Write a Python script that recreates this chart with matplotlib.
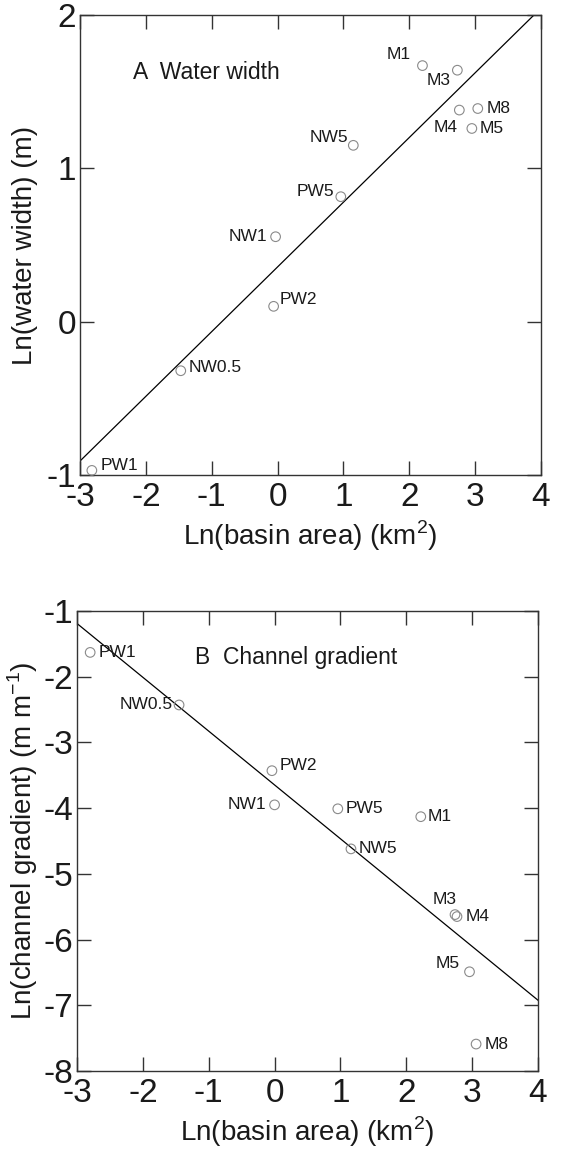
import matplotlib
matplotlib.use("Agg")
import matplotlib.pyplot as plt
import numpy as np

plt.rcParams['font.family'] = ['Liberation Sans', 'DejaVu Sans']
plt.rcParams['mathtext.fontset'] = 'custom'
plt.rcParams['mathtext.rm'] = 'Liberation Sans'
plt.rcParams['axes.unicode_minus'] = False

# ---- data ----
sites_a = ["M1", "M3", "M4", "M8", "M5", "NW5", "PW5", "NW1", "PW2", "NW0.5", "PW1"]
area_a = [2.20, 2.73, 2.76, 3.04, 2.95, 1.15, 0.96, -0.03, -0.06, -1.47, -2.82]
width_a = [1.67, 1.64, 1.38, 1.39, 1.26, 1.15, 0.815, 0.554, 0.10, -0.32, -0.97]
fit_a = (0.422, 0.357)  # slope, intercept

sites_b = ["PW1", "NW0.5", "PW2", "NW1", "PW5", "M1", "NW5", "M3", "M4", "M5", "M8"]
area_b = [-2.80, -1.45, -0.04, 0.00, 0.96, 2.22, 1.16, 2.74, 2.77, 2.96, 3.06]
grad_b = [-1.63, -2.43, -3.43, -3.95, -4.01, -4.13, -4.62, -5.62, -5.65, -6.49, -7.59]
fit_b = (-0.819, -3.647)

x_ticks = [-3, -2, -1, 0, 1, 2, 3, 4]
y_ticks_a = [-1, 0, 1, 2]
y_ticks_b = [-8, -7, -6, -5, -4, -3, -2, -1]

# label placement (pixel offsets, alignment)
lab_a = {
    "M1": (-12, 11, 'right'), "M3": (-7, -10, 'right'), "M4": (-2, -17, 'right'),
    "M8": (9, 0, 'left'), "M5": (8, 0, 'left'), "NW5": (-5, 8, 'right'),
    "PW5": (-7, 5, 'right'), "NW1": (-8, 0, 'right'), "PW2": (6, 7, 'left'),
    "NW0.5": (8, 3, 'left'), "PW1": (9, 5, 'left'),
}
lab_b = {
    "PW1": (8, 0, 'left'), "NW0.5": (-6, 0, 'right'), "PW2": (8, 5, 'left'),
    "NW1": (-8, 0, 'right'), "PW5": (8, 0, 'left'), "M1": (7, 0, 'left'),
    "NW5": (8, 0, 'left'), "M3": (2, 15, 'right'), "M4": (9, 0, 'left'),
    "M5": (-10, 8, 'right'), "M8": (9, 0, 'left'),
}

W, H = 561, 1153
fig = plt.figure(figsize=(W / 100, H / 100), dpi=100)
axA = fig.add_axes([80 / W, 1 - 475 / H, 461 / W, 460 / H])
axB = fig.add_axes([77 / W, 1 - 1071 / H, 461 / W, 460 / H])

txtc = '#1a1a1a'


def style(ax, yt):
    ax.set_xlim(-3, 4)
    ax.set_xticks(x_ticks)
    ax.set_yticks(yt)
    ax.set_ylim(yt[0], yt[-1])
    ax.tick_params(direction='in', length=10, width=1.0, color='#333333',
                   top=True, right=True, labelsize=24, pad=5, labelcolor=txtc)
    ax.tick_params(axis='y', pad=3)
    for s in ax.spines.values():
        s.set_color('#333333')
        s.set_linewidth(1.0)


def panel(ax, names, xs, ys, fit, labs):
    xx = np.array([-3.0, 4.0])
    ax.plot(xx, fit[0] * xx + fit[1], color='black', lw=0.9, zorder=2)
    ax.scatter(xs, ys, s=48, facecolors='none', edgecolors='#8a8a8a',
               linewidths=0.8, zorder=3, clip_on=False)
    for n, x, y in zip(names, xs, ys):
        dx, dy, ha = labs[n]
        ax.annotate(n, (x, y), xytext=(dx, dy), textcoords='offset pixels',
                    ha=ha, va='center', fontsize=12.5, color=txtc)


style(axA, y_ticks_a)
panel(axA, sites_a, area_a, width_a, fit_a, lab_a)
axA.text(0.115, 0.876, "A  Water width", transform=axA.transAxes,
         fontsize=16.5, va='center', ha='left', color=txtc)
axA.set_xlabel("Ln(basin area) (km$^2$)", fontsize=20, color=txtc, labelpad=4)
axA.set_ylabel("Ln(water width) (m)", fontsize=20, color=txtc, labelpad=6)

style(axB, y_ticks_b)
panel(axB, sites_b, area_b, grad_b, fit_b, lab_b)
axB.text(0.256, 0.898, "B  Channel gradient", transform=axB.transAxes,
         fontsize=16.5, va='center', ha='left', color=txtc)
axB.set_xlabel("Ln(basin area) (km$^2$)", fontsize=20, color=txtc, labelpad=4)
axB.set_ylabel("Ln(channel gradient) (m m$^{-1}$)", fontsize=20, color=txtc, labelpad=2)

fig.savefig("out.png", dpi=100)
